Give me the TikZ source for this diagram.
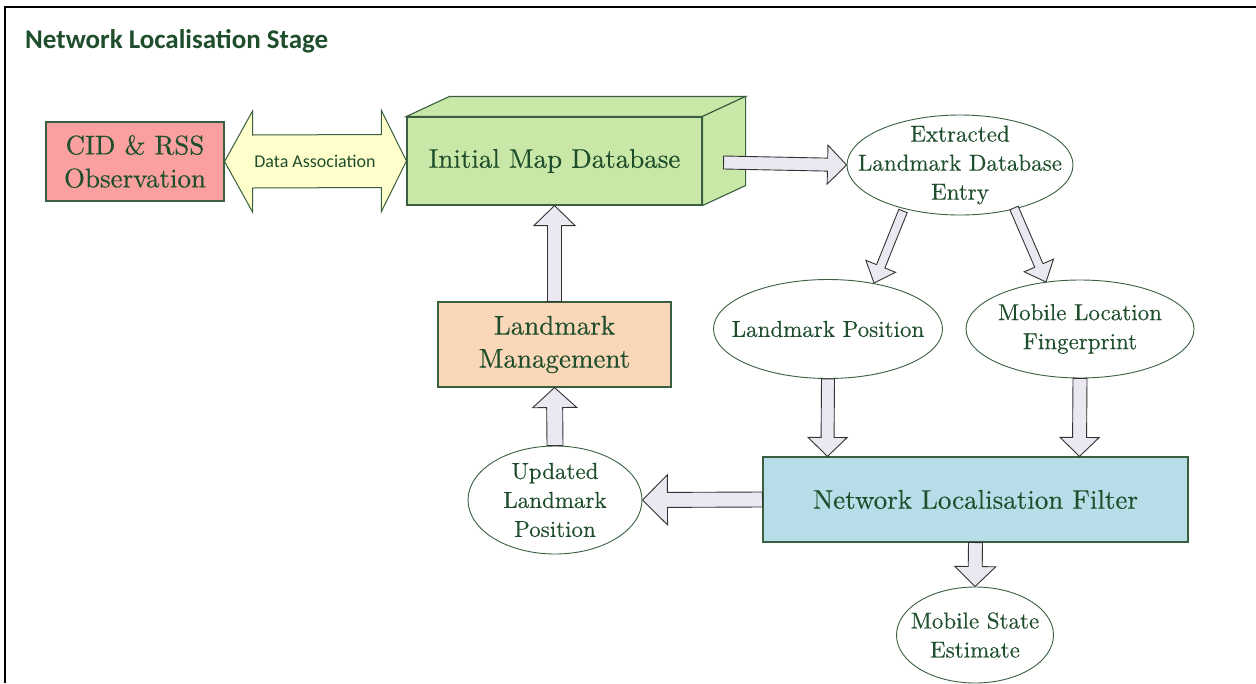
\documentclass[tikz,border=0pt]{standalone}
\usepackage{fontspec}
\newfontfamily\calib{Carlito}
\newfontfamily\bodyrm{lmroman10-regular.otf}[FakeBold=0.3]
\usetikzlibrary{calc,shapes.geometric}

\definecolor{ink}{HTML}{1F4E2C}
\definecolor{edge}{HTML}{3A5F40}
\definecolor{cidfill}{HTML}{FAA0A0}
\definecolor{assocfill}{HTML}{FFFFCC}
\definecolor{dbfill}{HTML}{C9E7A7}
\definecolor{lmfill}{HTML}{FAD7B9}
\definecolor{filterfill}{HTML}{B7DEE8}
\definecolor{arrowfill}{HTML}{EAE8F1}

\tikzset{
  box/.style={draw=edge, line width=1.1, text=ink, align=center, inner sep=0,
    font=\bodyrm\fontsize{27}{33}\selectfont},
  oval/.style 2 args={ellipse, draw=edge, line width=0.9, minimum width=#1,
    minimum height=#2, inner sep=0},
  ovaltext/.style={text=ink, align=center, inner sep=0,
    font=\bodyrm\fontsize{23}{29}\selectfont},
  barrow/.style={draw=black!80, fill=arrowfill, line width=0.9, line join=miter},
}

% block arrow: from, to, shaft half width, head half width, head length (pt)
\newcommand\blockarrow[5]{%
  \path let \p1=(#1), \p2=(#2) in \pgfextra{%
    \pgfmathsetmacro\baAng{atan2(\y2-\y1,\x2-\x1)}%
    \pgfmathsetmacro\baLen{veclen(\x2-\x1,\y2-\y1)}%
    \xdef\baAng{\baAng}\xdef\baLen{\baLen}%
    \xdef\baX{\x1}\xdef\baY{\y1}};
  \draw[barrow, shift={(\baX,\baY)}, rotate=\baAng]
    (0pt,#3pt) -- (\baLen pt-#5pt,#3pt) -- (\baLen pt-#5pt,#4pt) -- (\baLen pt,0pt)
    -- (\baLen pt-#5pt,-#4pt) -- (\baLen pt-#5pt,-#3pt) -- (0pt,-#3pt) -- cycle;
}

\begin{document}
\begin{tikzpicture}[x=1pt, y=-1pt]
\useasboundingbox (0,0) rectangle (1256,683);
\fill[white] (0,0) rectangle (1256,683);

% outer frame
\draw[line width=2.5, line join=miter] (1256,7) -- (5,7) -- (5,683);

\node[anchor=base west, inner sep=0, text=ink,
  font=\calib\bfseries\fontsize{27}{32}\selectfont] (title) at (25,48)
  {Network Localisation Stage};

% boxes
\node[box, fill=cidfill, minimum width=178, minimum height=79] (cid) at (135,161.5)
  {CID \& RSS\\Observation};
\node[box, fill=dbfill, minimum width=295, minimum height=88] (db) at (554.5,161)
  {Initial Map Database};
\draw[draw=edge, line width=1.1, fill=dbfill, line join=miter]
  (db.north west) -- ++(43,-20) -- ($(db.north east)+(43,-20)$) -- (db.north east) -- cycle;
\draw[draw=edge, line width=1.1, fill=dbfill, line join=miter]
  (db.north east) -- ++(43,-20) -- ($(db.south east)+(43,-20)$) -- (db.south east) -- cycle;
\node[box, fill=lmfill, minimum width=233, minimum height=85] (lm) at (554.5,344.5)
  {Landmark\\Management};
\node[box, fill=filterfill, minimum width=425, minimum height=85] (nlf) at (975.5,499.5)
  {Network Localisation Filter};

% ovals
\node[oval={226}{100}, label={[ovaltext, name=extt]center:{Extracted\\Landmark Database\\Entry}}]
  (ext) at (960,165) {};
\node[oval={229}{99}, label={[ovaltext, name=lpt]center:{Landmark Position}}]
  (lp) at (828,329) {};
\node[oval={228}{98}, label={[ovaltext, name=mlft]center:{Mobile Location\\Fingerprint}}]
  (mlf) at (1080,329) {};
\node[oval={174}{108}, label={[ovaltext, name=updt]center:{Updated\\Landmark\\Position}}]
  (upd) at (555,500) {};
\node[oval={157}{96}, label={[ovaltext, name=mset]center:{Mobile State\\Estimate}}]
  (mse) at (975,635) {};

% data association double arrow
\draw[draw=edge, line width=1, fill=assocfill, line join=miter]
  (cid.east) -- ($(cid.east)+(28,-50.5)$) -- ($(cid.east)+(28,-26.5)$)
  -- ($(db.west)+(-25,-26.5)$) -- ($(db.west)+(-25,-50.5)$) -- (db.west)
  -- ($(db.west)+(-25,50.5)$) -- ($(db.west)+(-25,26.5)$)
  -- ($(cid.east)+(28,26.5)$) -- ($(cid.east)+(28,50.5)$) -- cycle;
\node[inner sep=0, text=ink, font=\calib\fontsize{18}{21}\selectfont] (da) at (315,161)
  {Data Association};

% flow arrows
\blockarrow{$(db.east)+(21,1.5)$}{ext.west}{6.5}{19.5}{19}
\blockarrow{$(ext.center)+(-57,46)$}{$(lp.center)+(46,-46)$}{4.5}{16}{18}
\blockarrow{$(ext.center)+(54,43)$}{$(mlf.center)+(-34,-47)$}{4.5}{16}{18}
\blockarrow{lp.south}{$(nlf.north west)+(65,0)$}{6.5}{19.5}{19}
\blockarrow{mlf.south}{$(nlf.north west)+(317,0)$}{7}{19.5}{19}
\blockarrow{nlf.south}{mse.north}{7}{20.5}{20}
\blockarrow{nlf.west}{upd.east}{7.5}{25}{25}
\blockarrow{upd.north}{lm.south}{8}{22}{20}
\blockarrow{lm.north}{db.south}{7}{20.5}{20}
\end{tikzpicture}
\end{document}
